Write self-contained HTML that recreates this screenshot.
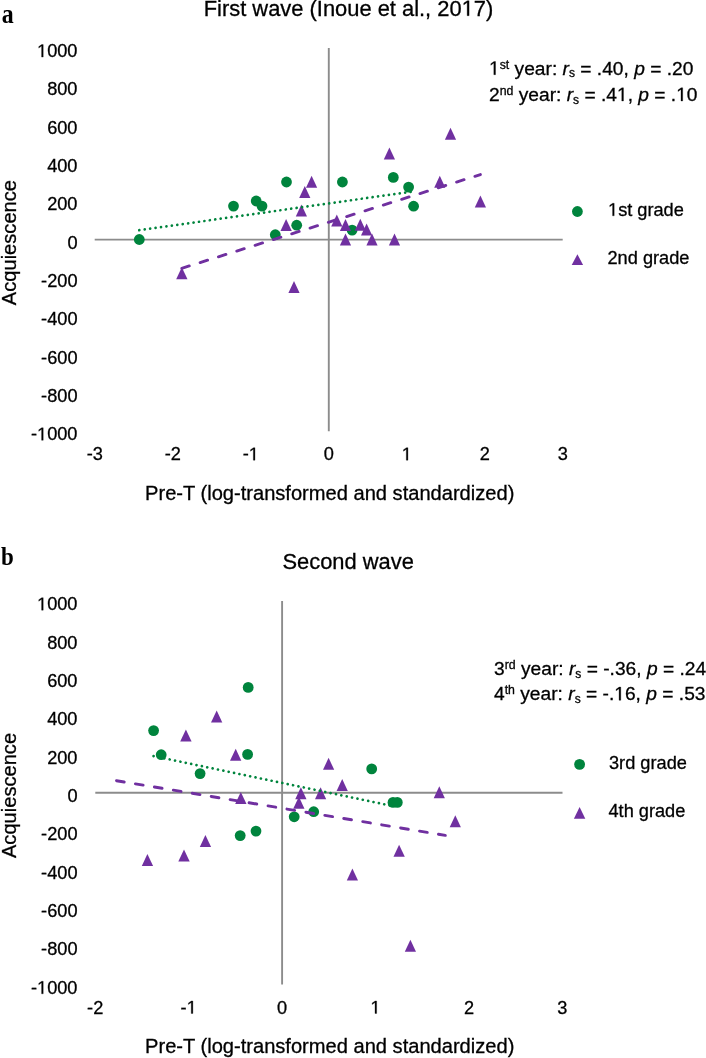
<!DOCTYPE html>
<html><head><meta charset="utf-8"><style>
html,body{margin:0;padding:0;background:#fff;}
body{width:706px;height:1058px;overflow:hidden;position:relative;}
svg{position:absolute;left:0;top:0;will-change:transform;}
text{font-family:"Liberation Sans",sans-serif;fill:#000;stroke:#000;stroke-width:0.3px;}
.one{fill:none;stroke:none;}
.pl{stroke:none;}
.t{font-size:18.2px;}
.ti{font-size:21.9px;}
.ax{font-size:20.1px;}
.st{font-size:19.2px;}
.sup{font-size:12.3px;}
.sub{font-size:12px;}
.lg{font-size:18.2px;}
.pl{font-family:"Liberation Serif",serif;font-weight:bold;}
</style></head><body>
<svg width="706" height="1058" viewBox="0 0 706 1058">
<text transform="translate(1.75,22.7) scale(1,1.11)" class="pl" font-size="23.9">a</text>
<text x="348.5" y="15.7" class="ti" text-anchor="middle">First wave (Inoue et al., 20<tspan class="one">1</tspan>7)</text>
<text class="ax" transform="translate(16.1,242.6) rotate(-90)" text-anchor="middle">Acquiescence</text>
<text x="329.7" y="499.7" class="ax" text-anchor="middle">Pre-T (log-transformed and standardized)</text>
<text x="489" y="74.7" class="st"><tspan class="one">1</tspan><tspan class="sup" dy="-6">st</tspan><tspan dy="6"> year: </tspan><tspan font-style="italic">r</tspan><tspan class="sub" dy="2.6">s</tspan><tspan dy="-2.6"> = .40, </tspan><tspan font-style="italic">p</tspan> = .20</text>
<text x="489" y="101.0" class="st">2<tspan class="sup" dy="-6">nd</tspan><tspan dy="6"> year: </tspan><tspan font-style="italic">r</tspan><tspan class="sub" dy="2.6">s</tspan><tspan dy="-2.6"> = .4<tspan class="one">1</tspan>, </tspan><tspan font-style="italic">p</tspan> = .<tspan class="one">1</tspan>0</text>
<circle cx="577.4" cy="211.5" r="5.4" fill="#00843D"/>
<text x="608" y="215.8" class="lg"><tspan class="one">1</tspan>st grade</text>
<path d="M577.4 254.2L583.1 265L571.7 265Z" fill="#7030A0"/>
<text x="607.5" y="263.8" class="lg">2nd grade</text>

<text transform="translate(0.9,565.2) scale(1,1.075)" class="pl" font-size="23">b</text>
<text x="348.2" y="568.8" class="ti" text-anchor="middle">Second wave</text>
<text class="ax" transform="translate(16.1,795.5) rotate(-90)" text-anchor="middle">Acquiescence</text>
<text x="329.7" y="1052.8" class="ax" text-anchor="middle">Pre-T (log-transformed and standardized)</text>
<text x="494" y="675.0" class="st">3<tspan class="sup" dy="-6">rd</tspan><tspan dy="6"> year: </tspan><tspan font-style="italic">r</tspan><tspan class="sub" dy="2.6">s</tspan><tspan dy="-2.6"> = -.36, </tspan><tspan font-style="italic">p</tspan> = .24</text>
<text x="494" y="700.3" class="st">4<tspan class="sup" dy="-6">th</tspan><tspan dy="6"> year: </tspan><tspan font-style="italic">r</tspan><tspan class="sub" dy="2.6">s</tspan><tspan dy="-2.6"> = -.<tspan class="one">1</tspan>6, </tspan><tspan font-style="italic">p</tspan> = .53</text>
<circle cx="579.6" cy="764.4" r="5.4" fill="#00843D"/>
<text x="609" y="768.5" class="lg">3rd grade</text>
<path d="M579.6 807L585.3 818.8L573.9 818.8Z" fill="#7030A0"/>
<text x="608.5" y="816.9" class="lg">4th grade</text>
<line x1="94.7" y1="239.6" x2="562.7" y2="239.6" stroke="#8c8c8c" stroke-width="1.9"/>
<line x1="328.8" y1="48" x2="328.8" y2="431.2" stroke="#8c8c8c" stroke-width="1.9"/>
<text x="77.5" y="57.1" class="t" text-anchor="end"><tspan class="one">1</tspan>000</text>
<text x="77.5" y="95.4" class="t" text-anchor="end">800</text>
<text x="77.5" y="133.7" class="t" text-anchor="end">600</text>
<text x="77.5" y="172.1" class="t" text-anchor="end">400</text>
<text x="77.5" y="210.4" class="t" text-anchor="end">200</text>
<text x="77.5" y="248.7" class="t" text-anchor="end">0</text>
<text x="77.5" y="287.0" class="t" text-anchor="end">-200</text>
<text x="77.5" y="325.3" class="t" text-anchor="end">-400</text>
<text x="77.5" y="363.7" class="t" text-anchor="end">-600</text>
<text x="77.5" y="402.0" class="t" text-anchor="end">-800</text>
<text x="77.5" y="440.3" class="t" text-anchor="end">-<tspan class="one">1</tspan>000</text>
<text x="94.8" y="460.2" class="t" text-anchor="middle">-3</text>
<text x="172.8" y="460.2" class="t" text-anchor="middle">-2</text>
<text x="250.8" y="460.2" class="t" text-anchor="middle">-<tspan class="one">1</tspan></text>
<text x="328.8" y="460.2" class="t" text-anchor="middle">0</text>
<text x="406.8" y="460.2" class="t" text-anchor="middle"><tspan class="one">1</tspan></text>
<text x="484.8" y="460.2" class="t" text-anchor="middle">2</text>
<text x="562.8" y="460.2" class="t" text-anchor="middle">3</text>
<circle cx="139.3" cy="239.5" r="5.4" fill="#00843D"/>
<circle cx="233.5" cy="206.1" r="5.4" fill="#00843D"/>
<circle cx="256.2" cy="201.0" r="5.4" fill="#00843D"/>
<circle cx="262.0" cy="206.1" r="5.4" fill="#00843D"/>
<circle cx="286.5" cy="182.0" r="5.4" fill="#00843D"/>
<circle cx="275.3" cy="234.7" r="5.4" fill="#00843D"/>
<circle cx="296.7" cy="225.2" r="5.4" fill="#00843D"/>
<circle cx="342.4" cy="182.0" r="5.4" fill="#00843D"/>
<circle cx="393.3" cy="177.4" r="5.4" fill="#00843D"/>
<circle cx="408.6" cy="187.1" r="5.4" fill="#00843D"/>
<circle cx="413.6" cy="206.2" r="5.4" fill="#00843D"/>
<circle cx="352.1" cy="230.1" r="5.4" fill="#00843D"/>
<path d="M181.8 267.2L187.5 279.2L176.2 279.2Z" fill="#7030A0"/>
<path d="M294.0 281.1L299.6 293.1L288.4 293.1Z" fill="#7030A0"/>
<path d="M286.1 218.9L291.8 230.9L280.5 230.9Z" fill="#7030A0"/>
<path d="M301.4 204.6L307.0 216.6L295.8 216.6Z" fill="#7030A0"/>
<path d="M304.8 185.9L310.4 197.9L299.2 197.9Z" fill="#7030A0"/>
<path d="M311.6 175.7L317.2 187.7L306.0 187.7Z" fill="#7030A0"/>
<path d="M450.5 127.7L456.1 139.7L444.9 139.7Z" fill="#7030A0"/>
<path d="M389.4 147.6L395.0 159.6L383.8 159.6Z" fill="#7030A0"/>
<path d="M439.8 175.8L445.4 187.8L434.2 187.8Z" fill="#7030A0"/>
<path d="M480.4 195.5L486.0 207.5L474.8 207.5Z" fill="#7030A0"/>
<path d="M336.8 214.4L342.4 226.4L331.2 226.4Z" fill="#7030A0"/>
<path d="M345.5 219.0L351.1 231.0L339.9 231.0Z" fill="#7030A0"/>
<path d="M360.3 218.7L365.9 230.7L354.7 230.7Z" fill="#7030A0"/>
<path d="M366.6 223.5L372.2 235.5L361.0 235.5Z" fill="#7030A0"/>
<path d="M345.5 233.5L351.1 245.5L339.9 245.5Z" fill="#7030A0"/>
<path d="M372.0 233.5L377.6 245.5L366.4 245.5Z" fill="#7030A0"/>
<path d="M394.5 233.5L400.1 245.5L388.9 245.5Z" fill="#7030A0"/>
<line x1="139.3" y1="230.2" x2="410.7" y2="191.8" stroke="#00843D" stroke-width="2.7" stroke-linecap="round" stroke-dasharray="0.01 5.47"/>
<line x1="181.8" y1="268.3" x2="480.4" y2="174.6" stroke="#7030A0" stroke-width="2.9" stroke-linecap="round" stroke-dasharray="7.8 11.4"/>
<line x1="95.3" y1="792.8" x2="562.5" y2="792.8" stroke="#8c8c8c" stroke-width="1.9"/>
<line x1="282.1" y1="601" x2="282.1" y2="984.6" stroke="#8c8c8c" stroke-width="1.9"/>
<text x="77.5" y="610.2" class="t" text-anchor="end"><tspan class="one">1</tspan>000</text>
<text x="77.5" y="648.6" class="t" text-anchor="end">800</text>
<text x="77.5" y="686.9" class="t" text-anchor="end">600</text>
<text x="77.5" y="725.3" class="t" text-anchor="end">400</text>
<text x="77.5" y="763.6" class="t" text-anchor="end">200</text>
<text x="77.5" y="802.0" class="t" text-anchor="end">0</text>
<text x="77.5" y="840.4" class="t" text-anchor="end">-200</text>
<text x="77.5" y="878.7" class="t" text-anchor="end">-400</text>
<text x="77.5" y="917.1" class="t" text-anchor="end">-600</text>
<text x="77.5" y="955.4" class="t" text-anchor="end">-800</text>
<text x="77.5" y="993.8" class="t" text-anchor="end">-<tspan class="one">1</tspan>000</text>
<text x="95.2" y="1013.5" class="t" text-anchor="middle">-2</text>
<text x="188.7" y="1013.5" class="t" text-anchor="middle">-<tspan class="one">1</tspan></text>
<text x="282.1" y="1013.5" class="t" text-anchor="middle">0</text>
<text x="375.5" y="1013.5" class="t" text-anchor="middle"><tspan class="one">1</tspan></text>
<text x="469.0" y="1013.5" class="t" text-anchor="middle">2</text>
<text x="562.4" y="1013.5" class="t" text-anchor="middle">3</text>
<circle cx="248.2" cy="687.4" r="5.4" fill="#00843D"/>
<circle cx="153.6" cy="730.6" r="5.4" fill="#00843D"/>
<circle cx="161.2" cy="754.7" r="5.4" fill="#00843D"/>
<circle cx="247.6" cy="754.4" r="5.4" fill="#00843D"/>
<circle cx="200.1" cy="773.6" r="5.4" fill="#00843D"/>
<circle cx="240.2" cy="835.6" r="5.4" fill="#00843D"/>
<circle cx="256.0" cy="831.1" r="5.4" fill="#00843D"/>
<circle cx="294.2" cy="816.8" r="5.4" fill="#00843D"/>
<circle cx="371.7" cy="768.9" r="5.4" fill="#00843D"/>
<circle cx="393.0" cy="802.4" r="5.4" fill="#00843D"/>
<circle cx="397.3" cy="802.4" r="5.4" fill="#00843D"/>
<circle cx="313.7" cy="811.7" r="5.4" fill="#00843D"/>
<path d="M216.7 710.6L222.3 722.6L211.0 722.6Z" fill="#7030A0"/>
<path d="M185.9 729.6L191.6 741.6L180.2 741.6Z" fill="#7030A0"/>
<path d="M235.7 748.7L241.3 760.7L230.0 760.7Z" fill="#7030A0"/>
<path d="M240.8 792.1L246.5 804.1L235.2 804.1Z" fill="#7030A0"/>
<path d="M205.4 835.0L211.1 847.0L199.8 847.0Z" fill="#7030A0"/>
<path d="M184.0 849.4L189.7 861.4L178.3 861.4Z" fill="#7030A0"/>
<path d="M147.4 854.0L153.1 866.0L141.8 866.0Z" fill="#7030A0"/>
<path d="M328.6 757.8L334.2 769.8L323.0 769.8Z" fill="#7030A0"/>
<path d="M342.2 779.1L347.8 791.1L336.6 791.1Z" fill="#7030A0"/>
<path d="M300.9 787.2L306.5 799.2L295.2 799.2Z" fill="#7030A0"/>
<path d="M320.6 787.2L326.2 799.2L315.0 799.2Z" fill="#7030A0"/>
<path d="M298.9 796.8L304.5 808.8L293.2 808.8Z" fill="#7030A0"/>
<path d="M439.3 786.2L444.9 798.2L433.7 798.2Z" fill="#7030A0"/>
<path d="M455.3 815.3L460.9 827.3L449.7 827.3Z" fill="#7030A0"/>
<path d="M399.1 844.7L404.8 856.7L393.5 856.7Z" fill="#7030A0"/>
<path d="M352.4 868.4L358.0 880.4L346.8 880.4Z" fill="#7030A0"/>
<path d="M410.4 939.8L416.0 951.8L404.8 951.8Z" fill="#7030A0"/>
<line x1="153.6" y1="756.1" x2="391.1" y2="805.7" stroke="#00843D" stroke-width="2.7" stroke-linecap="round" stroke-dasharray="0.01 5.47"/>
<line x1="116.5" y1="780.7" x2="445.3" y2="835.4" stroke="#7030A0" stroke-width="2.9" stroke-linecap="round" stroke-dasharray="7.8 11.4"/>
<path transform="translate(461.65,15.70) scale(0.01069,-0.01069)" d="M696 0L515 0L515 1237L197 1010L197 1180L530 1409L696 1409Z" stroke="#000" stroke-width="28.1"/>
<path transform="translate(489.00,74.70) scale(0.00937,-0.00937)" d="M696 0L515 0L515 1237L197 1010L197 1180L530 1409L696 1409Z" stroke="#000" stroke-width="32.0"/>
<path transform="translate(616.95,101.00) scale(0.00937,-0.00937)" d="M696 0L515 0L515 1237L197 1010L197 1180L530 1409L696 1409Z" stroke="#000" stroke-width="32.0"/>
<path transform="translate(676.17,101.00) scale(0.00937,-0.00937)" d="M696 0L515 0L515 1237L197 1010L197 1180L530 1409L696 1409Z" stroke="#000" stroke-width="32.0"/>
<path transform="translate(608.00,215.80) scale(0.00889,-0.00889)" d="M696 0L515 0L515 1237L197 1010L197 1180L530 1409L696 1409Z" stroke="#000" stroke-width="33.8"/>
<path transform="translate(614.25,700.30) scale(0.00937,-0.00937)" d="M696 0L515 0L515 1237L197 1010L197 1180L530 1409L696 1409Z" stroke="#000" stroke-width="32.0"/>
<path transform="translate(37.02,57.10) scale(0.00889,-0.00889)" d="M696 0L515 0L515 1237L197 1010L197 1180L530 1409L696 1409Z" stroke="#000" stroke-width="33.8"/>
<path transform="translate(37.02,440.30) scale(0.00889,-0.00889)" d="M696 0L515 0L515 1237L197 1010L197 1180L530 1409L696 1409Z" stroke="#000" stroke-width="33.8"/>
<path transform="translate(248.77,460.20) scale(0.00889,-0.00889)" d="M696 0L515 0L515 1237L197 1010L197 1180L530 1409L696 1409Z" stroke="#000" stroke-width="33.8"/>
<path transform="translate(401.74,460.20) scale(0.00889,-0.00889)" d="M696 0L515 0L515 1237L197 1010L197 1180L530 1409L696 1409Z" stroke="#000" stroke-width="33.8"/>
<path transform="translate(37.02,610.20) scale(0.00889,-0.00889)" d="M696 0L515 0L515 1237L197 1010L197 1180L530 1409L696 1409Z" stroke="#000" stroke-width="33.8"/>
<path transform="translate(37.02,993.80) scale(0.00889,-0.00889)" d="M696 0L515 0L515 1237L197 1010L197 1180L530 1409L696 1409Z" stroke="#000" stroke-width="33.8"/>
<path transform="translate(186.67,1013.50) scale(0.00889,-0.00889)" d="M696 0L515 0L515 1237L197 1010L197 1180L530 1409L696 1409Z" stroke="#000" stroke-width="33.8"/>
<path transform="translate(370.44,1013.50) scale(0.00889,-0.00889)" d="M696 0L515 0L515 1237L197 1010L197 1180L530 1409L696 1409Z" stroke="#000" stroke-width="33.8"/>
</svg>
</body></html>
